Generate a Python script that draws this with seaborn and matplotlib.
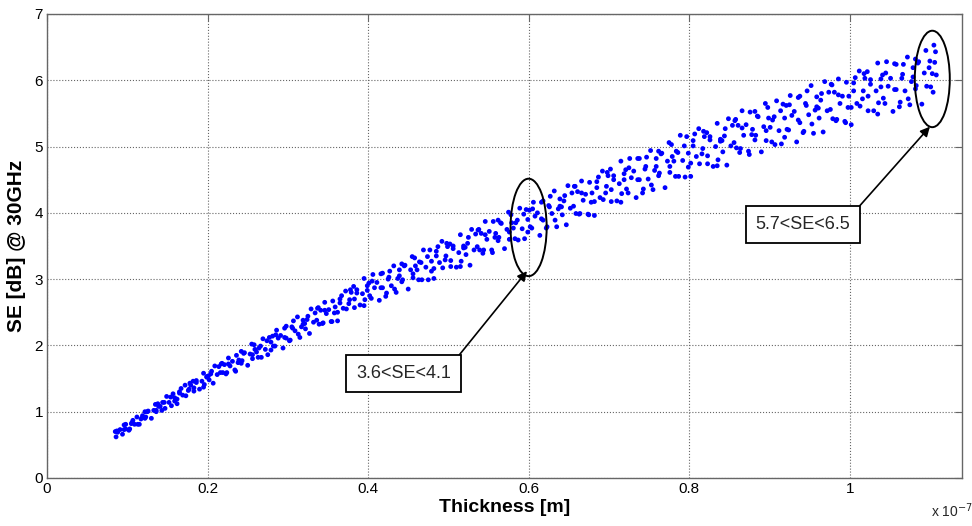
import pandas as pd
import seaborn as sns
import matplotlib.pyplot as plt
from matplotlib.patches import Ellipse

# thickness in units of 1e-7 m
thickness = [
    .094, .086, .098, .088, .091, .087, .096, .085,
    .102, .113, .109, .117, .105, .119, .107, .112,
    .130, .136, .123, .133, .139, .126, .122, .135,
    .147, .159, .152, .141, .144, .154, .157, .149,
    .162, .173, .169, .177, .165, .179, .167, .172,
    .190, .196, .183, .193, .199, .186, .182, .195,
    .207, .219, .212, .201, .204, .214, .217, .209,
    .234, .224, .238, .228, .231, .221, .236, .226,
    .250, .256, .243, .253, .259, .246, .242, .255,
    .267, .279, .272, .261, .264, .274, .277, .269,
    .294, .284, .298, .288, .291, .281, .296, .286,
    .302, .313, .309, .317, .305, .319, .307, .312,
    .327, .339, .332, .321, .324, .334, .337, .329,
    .354, .344, .358, .348, .351, .341, .356, .346,
    .362, .373, .369, .377, .365, .379, .367, .372,
    .390, .396, .383, .393, .399, .386, .382, .395,
    .414, .404, .418, .408, .411, .401, .416, .406,
    .422, .433, .429, .437, .425, .439, .427, .432,
    .450, .456, .443, .453, .459, .446, .442, .455,
    .467, .479, .472, .461, .464, .474, .477, .469,
    .482, .493, .489, .497, .485, .499, .487, .492,
    .510, .516, .503, .513, .519, .506, .502, .515,
    .527, .539, .532, .521, .524, .534, .537, .529,
    .554, .544, .558, .548, .551, .541, .556, .546,
    .570, .576, .563, .573, .579, .566, .562, .575,
    .587, .599, .592, .581, .584, .594, .597, .589,
    .614, .604, .618, .608, .611, .601, .616, .606,
    .622, .633, .629, .637, .625, .639, .627, .632,
    .647, .659, .652, .641, .644, .654, .657, .649,
    .674, .664, .678, .668, .671, .661, .676, .666,
    .682, .693, .689, .697, .685, .699, .687, .692,
    .710, .716, .703, .713, .719, .706, .702, .715,
    .734, .724, .738, .728, .731, .721, .736, .726,
    .742, .753, .749, .757, .745, .759, .747, .752,
    .770, .776, .763, .773, .779, .766, .762, .775,
    .787, .799, .792, .781, .784, .794, .797, .789,
    .802, .813, .809, .817, .805, .819, .807, .812,
    .830, .836, .823, .833, .839, .826, .822, .835,
    .847, .859, .852, .841, .844, .854, .857, .849,
    .874, .864, .878, .868, .871, .861, .876, .866,
    .890, .896, .883, .893, .899, .886, .882, .895,
    .907, .919, .912, .901, .904, .914, .917, .909,
    .934, .924, .938, .928, .931, .921, .936, .926,
    .942, .953, .949, .957, .945, .959, .947, .952,
    .967, .979, .972, .961, .964, .974, .977, .969,
    .994, .984, .998, .988, .991, .981, .996, .986,
    1.002, 1.013, 1.009, 1.017, 1.005, 1.019, 1.007, 1.012,
    1.030, 1.036, 1.023, 1.033, 1.039, 1.026, 1.022, 1.035,
    1.054, 1.044, 1.058, 1.048, 1.051, 1.041, 1.056, 1.046,
    1.062, 1.073, 1.069, 1.077, 1.065, 1.079, 1.067, 1.072,
    1.090, 1.096, 1.083, 1.093, 1.099, 1.086, 1.082, 1.095,
    1.104, 1.101, 1.108, 1.103, 1.106, 1.100, 1.107, 1.105,
]

se_db = [
    .66, .62, .74, .69, .73, .71, .80, .70,
    .72, .81, .81, .89, .82, .94, .87, .92,
    .90, 1.00, .92, 1.02, 1.08, 1.01, 1.00, 1.11,
    1.05, 1.16, 1.14, 1.08, 1.14, 1.22, 1.27, 1.23,
    1.12, 1.24, 1.25, 1.34, 1.28, 1.40, 1.35, 1.40,
    1.34, 1.41, 1.36, 1.46, 1.53, 1.47, 1.46, 1.58,
    1.43, 1.59, 1.56, 1.54, 1.57, 1.68, 1.72, 1.69,
    1.63, 1.59, 1.74, 1.69, 1.76, 1.71, 1.85, 1.81,
    1.70, 1.80, 1.77, 1.87, 1.94, 1.89, 1.91, 2.02,
    1.82, 1.93, 1.94, 1.90, 1.96, 2.07, 2.12, 2.10,
    1.96, 1.99, 2.11, 2.11, 2.15, 2.14, 2.26, 2.23,
    2.07, 2.17, 2.22, 2.28, 2.28, 2.38, 2.37, 2.43,
    2.18, 2.32, 2.35, 2.33, 2.39, 2.49, 2.56, 2.55,
    2.36, 2.34, 2.49, 2.48, 2.54, 2.53, 2.67, 2.65,
    2.37, 2.55, 2.56, 2.69, 2.64, 2.80, 2.75, 2.82,
    2.61, 2.69, 2.70, 2.78, 2.90, 2.84, 2.89, 3.01,
    2.68, 2.71, 2.87, 2.87, 2.95, 2.94, 3.08, 3.07,
    2.74, 2.85, 2.90, 3.01, 3.00, 3.14, 3.12, 3.20,
    2.85, 3.02, 2.99, 3.14, 3.20, 3.21, 3.23, 3.34,
    2.99, 3.12, 3.18, 3.14, 3.26, 3.34, 3.44, 3.44,
    3.01, 3.17, 3.25, 3.35, 3.35, 3.49, 3.49, 3.57,
    3.18, 3.27, 3.28, 3.40, 3.50, 3.50, 3.53, 3.67,
    3.21, 3.44, 3.44, 3.48, 3.54, 3.68, 3.74, 3.75,
    3.44, 3.44, 3.63, 3.60, 3.72, 3.69, 3.87, 3.87,
    3.46, 3.60, 3.63, 3.75, 3.85, 3.84, 3.89, 4.01,
    3.59, 3.71, 3.76, 3.77, 3.85, 3.98, 4.05, 4.07,
    3.66, 3.77, 3.89, 3.95, 4.00, 4.04, 4.16, 4.16,
    3.77, 3.89, 3.99, 4.06, 4.11, 4.21, 4.25, 4.33,
    3.82, 3.99, 4.07, 4.09, 4.18, 4.30, 4.40, 4.41,
    3.98, 3.99, 4.16, 4.19, 4.28, 4.32, 4.46, 4.48,
    3.96, 4.20, 4.23, 4.40, 4.38, 4.56, 4.54, 4.63,
    4.18, 4.29, 4.35, 4.44, 4.59, 4.56, 4.66, 4.78,
    4.23, 4.30, 4.50, 4.53, 4.63, 4.65, 4.82, 4.82,
    4.30, 4.42, 4.51, 4.64, 4.66, 4.82, 4.84, 4.94,
    4.38, 4.61, 4.60, 4.78, 4.85, 4.90, 4.93, 5.06,
    4.55, 4.69, 4.79, 4.78, 4.93, 5.01, 5.15, 5.17,
    4.55, 4.74, 4.85, 4.97, 5.01, 5.15, 5.19, 5.27,
    4.70, 4.80, 4.86, 5.00, 5.11, 5.15, 5.21, 5.35,
    4.72, 4.98, 5.01, 5.09, 5.16, 5.32, 5.39, 5.42,
    4.93, 4.97, 5.18, 5.17, 5.33, 5.32, 5.52, 5.54,
    4.92, 5.09, 5.17, 5.30, 5.43, 5.45, 5.53, 5.65,
    5.03, 5.14, 5.24, 5.29, 5.40, 5.54, 5.64, 5.69,
    5.07, 5.25, 5.36, 5.47, 5.53, 5.62, 5.74, 5.77,
    5.21, 5.34, 5.48, 5.55, 5.65, 5.75, 5.84, 5.92,
    5.22, 5.42, 5.54, 5.58, 5.70, 5.82, 5.94, 5.98,
    5.38, 5.41, 5.59, 5.65, 5.76, 5.82, 5.97, 6.02,
    5.33, 5.61, 5.65, 5.84, 5.84, 6.03, 6.04, 6.14,
    5.54, 5.66, 5.76, 5.84, 6.02, 6.01, 6.13, 6.26,
    5.53, 5.65, 5.86, 5.91, 6.03, 6.08, 6.25, 6.28,
    5.60, 5.72, 5.84, 5.98, 6.03, 6.19, 6.24, 6.35,
    5.64, 5.91, 5.92, 6.11, 6.19, 6.28, 6.32, 6.45,
    5.82, 5.90, 6.08, 6.10, 6.27, 6.29, 6.43, 6.53,
]

# extra points read between the columns above
thickness_fill = [
    .103, .096, .106, .098, .115, .122, .119, .125,
    .143, .136, .146, .138, .155, .162, .159, .165,
    .183, .176, .186, .178, .195, .202, .199, .205,
    .223, .216, .226, .218, .235, .242, .239, .245,
    .263, .256, .266, .258, .275, .282, .279, .285,
    .303, .296, .306, .298, .315, .322, .319, .325,
    .343, .336, .346, .338, .355, .362, .359, .365,
    .383, .376, .386, .378, .395, .402, .399, .405,
    .423, .416, .426, .418, .435, .442, .439, .445,
    .463, .456, .466, .458, .475, .482, .479, .485,
    .503, .496, .506, .498, .515, .522, .519, .525,
    .543, .536, .546, .538, .555, .562, .559, .565,
    .583, .576, .586, .578, .595, .602, .599, .605,
    .623, .616, .626, .618, .635, .642, .639, .645,
    .663, .656, .666, .658, .675, .682, .679, .685,
    .703, .696, .706, .698, .715, .722, .719, .725,
    .743, .736, .746, .738, .755, .762, .759, .765,
    .783, .776, .786, .778, .795, .802, .799, .805,
    .823, .816, .826, .818, .835, .842, .839, .845,
    .863, .856, .866, .858, .875, .882, .879, .885,
    .903, .896, .906, .898, .915, .922, .919, .925,
    .943, .936, .946, .938, .955, .962, .959, .965,
    .983, .976, .986, .978, .995, 1.002, .999, 1.005,
    1.023, 1.016, 1.026, 1.018, 1.035, 1.042, 1.039, 1.045,
    1.063, 1.056, 1.066, 1.058, 1.075, 1.082, 1.079, 1.085,
]

se_fill = [
    .74, .73, .84, .81, .81, .90, .92, 1.00,
    1.02, 1.02, 1.14, 1.12, 1.09, 1.19, 1.21, 1.30,
    1.31, 1.32, 1.44, 1.43, 1.37, 1.48, 1.52, 1.61,
    1.57, 1.59, 1.72, 1.73, 1.61, 1.73, 1.78, 1.88,
    1.82, 1.86, 1.99, 2.01, 1.86, 1.99, 2.05, 2.16,
    2.08, 2.12, 2.26, 2.29, 2.12, 2.25, 2.32, 2.44,
    2.33, 2.38, 2.53, 2.57, 2.36, 2.50, 2.58, 2.70,
    2.57, 2.63, 2.79, 2.84, 2.60, 2.75, 2.83, 2.97,
    2.79, 2.87, 3.03, 3.09, 2.80, 2.96, 3.05, 3.20,
    2.99, 3.08, 3.25, 3.32, 2.99, 3.16, 3.27, 3.42,
    3.19, 3.29, 3.46, 3.54, 3.19, 3.37, 3.47, 3.63,
    3.39, 3.49, 3.67, 3.75, 3.40, 3.58, 3.69, 3.85,
    3.61, 3.71, 3.89, 3.97, 3.61, 3.79, 3.90, 4.06,
    3.79, 3.91, 4.09, 4.18, 3.79, 3.97, 4.10, 4.26,
    3.98, 4.10, 4.30, 4.40, 3.97, 4.17, 4.30, 4.47,
    4.17, 4.30, 4.50, 4.61, 4.16, 4.36, 4.50, 4.68,
    4.36, 4.50, 4.70, 4.82, 4.35, 4.56, 4.70, 4.89,
    4.55, 4.70, 4.91, 5.03, 4.54, 4.75, 4.90, 5.09,
    4.74, 4.89, 5.10, 5.23, 4.71, 4.92, 5.08, 5.27,
    4.91, 5.06, 5.28, 5.41, 4.88, 5.10, 5.26, 5.46,
    5.07, 5.24, 5.45, 5.59, 5.04, 5.26, 5.43, 5.63,
    5.23, 5.40, 5.62, 5.76, 5.20, 5.43, 5.60, 5.80,
    5.39, 5.56, 5.78, 5.93, 5.36, 5.59, 5.76, 5.96,
    5.54, 5.72, 5.94, 6.10, 5.49, 5.73, 5.90, 6.11,
    5.67, 5.86, 6.09, 6.24, 5.63, 5.87, 6.05, 6.26,
]

x_ticks = [0, 0.2, 0.4, 0.6, 0.8, 1.0]
x_tick_labels = ['0', '0.2', '0.4', '0.6', '0.8', '1']
y_ticks = [0, 1, 2, 3, 4, 5, 6, 7]

df = pd.DataFrame({'thickness': thickness + thickness_fill,
                   'se': se_db + se_fill})

sns.set_style('white')
plt.rcParams['font.family'] = ['Liberation Sans', 'DejaVu Sans']

fig = plt.figure(figsize=(9.72, 5.26), dpi=100)
ax = fig.add_axes([0.0484, 0.0913, 0.9413, 0.8821])

sns.scatterplot(data=df, x='thickness', y='se', ax=ax, color='#0000ff',
                s=12, edgecolor='none', linewidth=0, zorder=3)

ax.set_xlim(0, 1.14)
ax.set_ylim(0, 7)
ax.set_xticks(x_ticks)
ax.set_xticklabels(x_tick_labels)
ax.set_yticks(y_ticks)
ax.tick_params(direction='in', top=True, right=True, length=5,
               color='0.4', labelsize=11, labelcolor='black', pad=3)
for sp in ax.spines.values():
    sp.set_color('0.4')
    sp.set_linewidth(1.0)
ax.grid(True, linestyle=':', color='0.4', linewidth=0.8)

ax.set_xlabel('Thickness [m]', fontsize=14, fontweight='bold', labelpad=2, color='black')
ax.set_ylabel('SE [dB] @ 30GHz', fontsize=15, fontweight='bold', labelpad=6, color='black')
fig.text(0.958, 0.012, r'x 10$^{-7}$', fontsize=10, ha='left', va='bottom')

# highlighted regions
ax.add_patch(Ellipse((0.600, 3.78), 0.045, 1.47, fill=False, ec='black', lw=1.4, zorder=4))
ax.add_patch(Ellipse((1.103, 6.02), 0.0436, 1.455, fill=False, ec='black', lw=1.4, zorder=4))

box = dict(boxstyle='square,pad=0.55', fc='white', ec='black', lw=1.3)
arrow = dict(arrowstyle='-|>', color='black', lw=1.2, shrinkA=0, shrinkB=0,
             mutation_scale=14, relpos=(1, 1))
ax.annotate('3.6<SE<4.1', xy=(0.598, 3.12), xytext=(0.444, 1.57),
            ha='center', va='center', fontsize=13, bbox=box, arrowprops=arrow, zorder=5)
ax.annotate('5.7<SE<6.5', xy=(1.100, 5.30), xytext=(0.942, 3.82),
            ha='center', va='center', fontsize=13, bbox=box, arrowprops=arrow, zorder=5)

fig.savefig('out.png', dpi=100)
